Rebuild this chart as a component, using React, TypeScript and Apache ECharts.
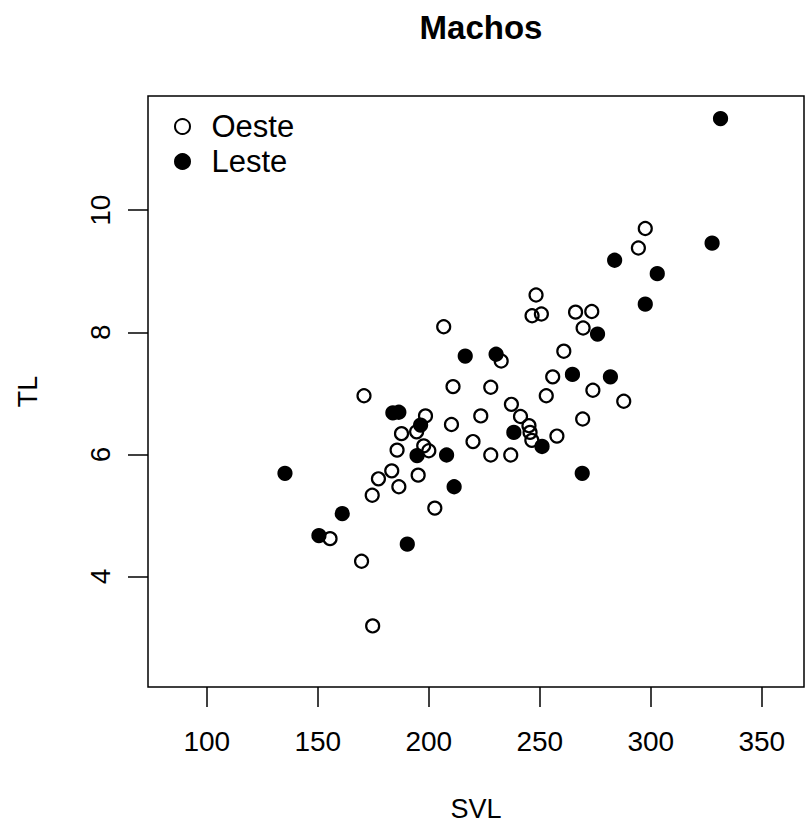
import React, { useEffect, useRef } from "react";
import * as echarts from "echarts";

const title = "Machos";
const xName = "SVL";
const yName = "TL";
const seriesNames = ["Oeste", "Leste"];

const xTicks = [100, 150, 200, 250, 300, 350];
const yTicks = [4, 6, 8, 10];

const oesteSVL = [297.5, 294.4, 266.1, 273.4, 269.5, 248.3, 246.5, 250.7, 206.7, 232.6, 260.8, 255.8, 210.9, 227.9, 252.9, 273.9, 287.8, 237.2, 170.8, 198.5, 187.7, 194.5, 210.2, 223.4, 241.3, 269.3, 245.1, 245.6, 246.4, 257.7, 219.9, 185.7, 197.7, 200.0, 227.9, 236.9, 183.3, 177.3, 195.2, 186.5, 174.5, 202.7, 155.5, 169.7, 174.7];
const oesteTL = [9.7, 9.38, 8.33, 8.34, 8.07, 8.61, 8.27, 8.3, 8.09, 7.53, 7.69, 7.27, 7.11, 7.1, 6.96, 7.05, 6.87, 6.82, 6.96, 6.63, 6.34, 6.37, 6.49, 6.63, 6.62, 6.58, 6.47, 6.36, 6.23, 6.3, 6.21, 6.07, 6.14, 6.06, 5.99, 5.99, 5.73, 5.6, 5.66, 5.47, 5.33, 5.12, 4.62, 4.25, 3.19];

const lesteSVL = [331.4, 327.6, 283.7, 302.9, 297.5, 276.0, 216.4, 230.3, 264.7, 281.8, 183.8, 186.5, 196.3, 238.3, 194.7, 208.0, 251.0, 269.1, 135.2, 211.4, 161.0, 150.5, 190.3];
const lesteTL = [11.5, 9.46, 9.18, 8.96, 8.46, 7.97, 7.61, 7.64, 7.31, 7.27, 6.68, 6.69, 6.48, 6.36, 5.98, 5.99, 6.13, 5.69, 5.69, 5.47, 5.03, 4.67, 4.53];

const FONT = "'Liberation Sans', Arial, sans-serif";

export default function App() {
  const ref = useRef<HTMLDivElement>(null);
  useEffect(() => {
    document.body.style.margin = "0";
    const chart = echarts.init(ref.current!, null, { renderer: "svg" });
    const oeste = oesteSVL.map((x, i) => [x, oesteTL[i]]);
    const leste = lesteSVL.map((x, i) => [x, lesteTL[i]]);
    chart.setOption({
      animation: false,
      backgroundColor: "#ffffff",
      title: {
        text: title,
        left: 476,
        textAlign: "center",
        top: 6,
        textStyle: { fontFamily: FONT, fontSize: 33, fontWeight: "bold", color: "#000" },
      },
      legend: {
        orient: "vertical",
        left: 169,
        top: 106,
        itemWidth: 48,
        itemHeight: 15,
        itemGap: 4,
        data: seriesNames,
        textStyle: { fontFamily: FONT, fontSize: 31, color: "#000" },
      },
      grid: {
        left: 148,
        right: 2,
        top: 96,
        bottom: 145,
        show: true,
        borderColor: "#000",
        borderWidth: 1.5,
        backgroundColor: "#fff",
      },
      xAxis: {
        type: "value",
        min: 73.5,
        max: 369,
        name: xName,
        nameLocation: "middle",
        nameGap: 108,
        nameTextStyle: { fontFamily: FONT, fontSize: 27, color: "#000" },
        axisLine: { show: false },
        splitLine: { show: false },
        axisTick: {
          show: true,
          length: 20,
          customValues: xTicks,
          lineStyle: { color: "#000", width: 1.5 },
        },
        axisLabel: {
          customValues: xTicks,
          margin: 40,
          fontFamily: FONT,
          fontSize: 28,
          color: "#000",
        },
      },
      yAxis: {
        type: "value",
        min: 2.19,
        max: 11.87,
        name: yName,
        nameLocation: "middle",
        nameGap: 107,
        nameRotate: 90,
        nameTextStyle: { fontFamily: FONT, fontSize: 27, color: "#000" },
        axisLine: { show: false },
        splitLine: { show: false },
        axisTick: {
          show: true,
          length: 20,
          customValues: yTicks,
          lineStyle: { color: "#000", width: 1.5 },
        },
        axisLabel: {
          customValues: yTicks,
          rotate: 90,
          margin: 34,
          fontFamily: FONT,
          fontSize: 28,
          color: "#000",
        },
      },
      series: [
        {
          name: seriesNames[0],
          type: "scatter",
          symbol: "circle",
          symbolSize: 13,
          data: oeste,
          itemStyle: { color: "rgba(0,0,0,0)", borderColor: "#000", borderWidth: 2.2, opacity: 1 },
        },
        {
          name: seriesNames[1],
          type: "scatter",
          symbol: "circle",
          symbolSize: 13,
          data: leste,
          itemStyle: { color: "#000", borderColor: "#000", borderWidth: 2.2, opacity: 1 },
        },
      ],
    });
    return () => chart.dispose();
  }, []);
  return <div ref={ref} style={{ width: 806, height: 832 }} />;
}
